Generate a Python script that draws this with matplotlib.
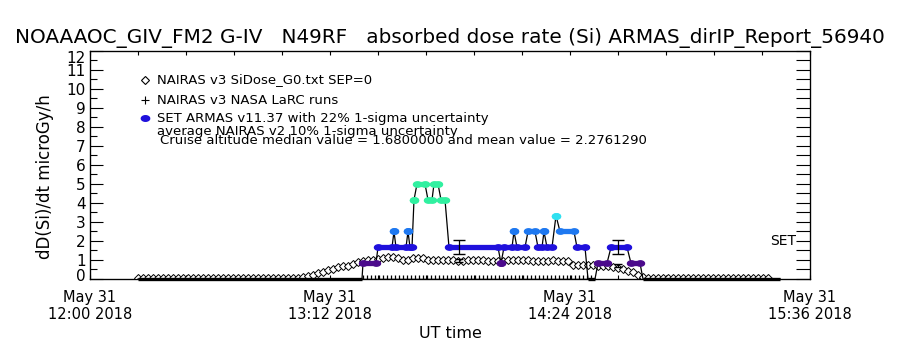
import numpy as np
import matplotlib
matplotlib.use('Agg')
import matplotlib.pyplot as plt
import matplotlib.transforms as mtransforms
from matplotlib.ticker import MultipleLocator, FixedLocator

# time axis: minutes after 12:00 UT, May 31 2018
tick_minutes = [0, 72, 144, 216]
tick_labels = ['May 31\n12:00 2018', 'May 31\n13:12 2018',
               'May 31\n14:24 2018', 'May 31\n15:36 2018']

# NAIRAS v3 SiDose_G0 (diamonds), one value every 1.5 min from 14.4 min
nairas_start = 14.4
nairas_step = 1.5
nairas_dose = [
    0.05, 0.05, 0.05, 0.05, 0.05, 0.05, 0.05, 0.05, 0.05, 0.05, 0.05,
    0.05, 0.05, 0.05, 0.05, 0.05, 0.05, 0.05, 0.05, 0.05, 0.05, 0.05,
    0.05, 0.05, 0.05, 0.05, 0.05, 0.05, 0.05, 0.05, 0.05, 0.05, 0.06,
    0.10, 0.16, 0.23, 0.30, 0.38, 0.46, 0.54, 0.61, 0.67, 0.70, 0.80,
    0.90, 0.95, 0.98, 1.00, 1.05, 1.10, 1.15, 1.15, 1.12, 1.02, 1.00,
    1.08, 1.10, 1.08, 1.02, 1.00, 1.00, 1.02, 0.98, 0.98, 0.97, 0.97,
    0.98, 1.00, 1.00, 0.98, 0.97, 0.96, 0.95, 0.96, 0.98, 1.00, 1.00,
    1.00, 0.98, 0.97, 0.96, 0.96, 0.97, 0.98, 0.97, 0.96, 0.95, 0.72,
    0.72, 0.73, 0.72, 0.71, 0.70, 0.70, 0.68, 0.62, 0.56, 0.50, 0.44,
    0.35, 0.22, 0.10, 0.06, 0.05, 0.05, 0.05, 0.05, 0.05, 0.05, 0.05,
    0.05, 0.05, 0.05, 0.05, 0.05, 0.05, 0.05, 0.05, 0.05, 0.05, 0.05,
    0.05, 0.05, 0.05, 0.05, 0.05, 0.05,
]
nairas_err_time = [110.7, 158.4]
nairas_err_dose = [0.97, 0.70]
nairas_err = [0.10, 0.07]

# NAIRAS v3 NASA LaRC runs (+), every 1.2 min
larc_start = 82.0
larc_stop = 151.0
larc_step = 1.2
larc_dose = 0.0

# SET ARMAS v11.37: runs of equal dose (start min, end min, dose)
armas_t0 = [14.4, 81.9, 86.4, 91.2, 91.8, 95.4, 96.0, 97.2, 98.1, 101.4,
            103.2, 105.3, 107.7, 123.3, 124.2, 127.2, 128.1, 131.4, 134.4,
            136.2, 137.1, 139.8, 141.0, 146.1, 149.4, 152.4, 156.3, 162.3,
            165.9]
armas_t1 = [81.6, 85.8, 90.6, 91.2, 94.8, 95.4, 96.6, 97.2, 100.5, 102.6,
            104.4, 106.5, 122.4, 123.3, 126.6, 127.2, 130.5, 133.5, 135.6,
            136.2, 138.6, 139.8, 145.2, 148.5, 151.5, 155.1, 161.1, 165.0,
            207.0]
armas_dose = [0.0, 0.833, 1.667, 2.5, 1.667, 2.5, 1.667, 4.167, 5.0, 4.167,
              5.0, 4.167, 1.667, 0.833, 1.667, 2.5, 1.667, 2.5, 1.667, 2.5,
              1.667, 3.333, 2.5, 1.667, 0.0, 0.833, 1.667, 0.833, 0.0]
armas_err_time = [110.7, 158.4]
armas_err_dose = [1.667, 1.667]
armas_err = [0.37, 0.37]

level_dose = [0.0, 0.833, 1.667, 2.5, 3.333, 4.167, 5.0]
level_color = ['black', '#4b0a8c', '#1f10dc', '#1e78f0', '#30e0f0',
               '#30f0a0', '#30f0a0']

median_txt = 'Cruise altitude median value = 1.6800000 and mean value = 2.2761290'


def px(x, y):
    # figure pixel -> figure fraction
    return x / 900.0, 1 - y / 350.0


# horizontal blob marker used by the ARMAS points
th = np.linspace(0, 2 * np.pi, 40)
blob = np.column_stack([1.5 * np.cos(th), np.sin(th)])

fig = plt.figure(figsize=(9, 3.5), dpi=100)
ax = fig.add_axes([0.1, 0.2029, 0.8, 0.6514])

nairas_time = nairas_start + nairas_step * np.arange(len(nairas_dose))
ax.plot(nairas_time, nairas_dose, ls='none', marker='D', ms=4.2,
        mfc='white', mec='black', mew=0.7, zorder=3)
ax.errorbar(nairas_err_time, nairas_err_dose, yerr=nairas_err, fmt='none',
            ecolor='black', elinewidth=0.8, capsize=3, zorder=4)

larc_time = np.arange(larc_start, larc_stop, larc_step)
ax.plot(larc_time, np.full(len(larc_time), larc_dose), ls='none', marker='+',
        ms=6, color='black', mew=0.9, zorder=2)

# black line joining the ARMAS samples
line_t, line_v = [], []
for t0, t1, d in zip(armas_t0, armas_t1, armas_dose):
    line_t += [t0, t1]
    line_v += [d, d]
ax.plot(line_t, line_v, color='black', lw=0.9, zorder=4)

for t0, t1, d in zip(armas_t0, armas_t1, armas_dose):
    c = level_color[level_dose.index(d)]
    if d == 0.0:
        ax.plot([t0, t1], [d, d], color=c, lw=2.4, solid_capstyle='butt',
                clip_on=False, zorder=5)
        continue
    ax.plot([t0, t1], [d, d], color=c, lw=3.8, solid_capstyle='butt',
            zorder=5)
    ax.plot([t0, t1], [d, d], ls='none', marker=blob, ms=5.8, color=c,
            zorder=5)

ax.errorbar(armas_err_time, armas_err_dose, yerr=armas_err, fmt='none',
            ecolor='black', elinewidth=0.9, capsize=4, zorder=6)

ax.set_xlim(0, 216)
ax.set_ylim(0, 12)
ax.xaxis.set_major_locator(FixedLocator(tick_minutes))
ax.xaxis.set_minor_locator(MultipleLocator(14.4))
ax.set_xticklabels(tick_labels, fontsize=10.5, linespacing=1.15)
ax.set_yticks(range(13))
ax.set_yticklabels([str(v) for v in range(13)])
ax.yaxis.set_minor_locator(MultipleLocator(0.5))
ax.tick_params(axis='x', which='both', direction='in', top=True,
               length=3, width=0.8, pad=8)
ax.tick_params(axis='y', which='major', direction='in', length=9,
               width=0.8, labelsize=11, pad=3, right=False)
ax.tick_params(axis='y', which='minor', direction='in', length=5,
               width=0.8, right=False)
# the end labels sit a little inside the axis, as in the original
ylabels = ax.get_yticklabels()
up = mtransforms.ScaledTranslation(0, 3 / 72, fig.dpi_scale_trans)
down = mtransforms.ScaledTranslation(0, -4 / 72, fig.dpi_scale_trans)
ylabels[0].set_transform(ylabels[0].get_transform() + up)
ylabels[-1].set_transform(ylabels[-1].get_transform() + down)
for sp in ax.spines.values():
    sp.set_linewidth(0.9)

rax = ax.twinx()
rax.set_ylim(0, 12)
rax.yaxis.set_major_locator(MultipleLocator(0.5))
rax.tick_params(axis='y', direction='in', length=10, width=0.8,
                labelright=False)
ax.text(0.9806, 2.0, 'SET', transform=ax.get_yaxis_transform(),
        ha='right', va='center', fontsize=10)

ax.set_xlabel('UT time', fontsize=11.5, labelpad=3)
ax.set_ylabel('dD(Si)/dt microGy/h', fontsize=12)
ax.yaxis.set_label_coords(-0.05, 0.45)

fig.text(*px(450, 38), 'NOAAAOC_GIV_FM2 G-IV   N49RF   absorbed dose rate (Si) '
         'ARMAS_dirIP_Report_56940', ha='center', va='center', fontsize=14.4)

# legend, drawn by hand as in the original
fig.lines.append(plt.Line2D([145 / 900], [1 - 80 / 350], ls='none', marker='D',
                            ms=4, mfc='white', mec='black', mew=0.8,
                            transform=fig.transFigure))
fig.lines.append(plt.Line2D([145 / 900], [1 - 100 / 350], ls='none',
                            marker='+', ms=6, color='black', mew=0.8,
                            transform=fig.transFigure))
fig.lines.append(plt.Line2D([145 / 900], [1 - 118 / 350], ls='none',
                            marker=blob, ms=6, color=level_color[2],
                            transform=fig.transFigure))
leg_kw = dict(ha='left', va='center', fontsize=9.5)
fig.text(*px(157, 80), 'NAIRAS v3 SiDose_G0.txt SEP=0', **leg_kw)
fig.text(*px(157, 100), 'NAIRAS v3 NASA LaRC runs', **leg_kw)
fig.text(*px(157, 118), 'SET ARMAS v11.37 with 22% 1-sigma uncertainty', **leg_kw)
fig.text(*px(157, 131), 'average NAIRAS v2 10% 1-sigma uncertainty', **leg_kw)
fig.text(*px(160, 141), median_txt, **leg_kw)

fig.savefig('out.png', dpi=100)
